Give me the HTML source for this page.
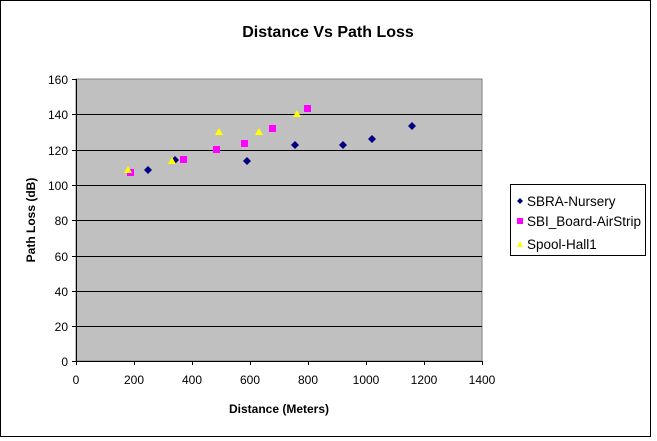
<!DOCTYPE html>
<html><head><meta charset="utf-8"><style>
body{margin:0;background:#fff}
svg{display:block;font-family:"Liberation Sans",Arial,sans-serif}
</style></head><body>
<svg width="657" height="441" viewBox="0 0 657 441">
<rect x="0.5" y="0.5" width="650" height="436" fill="#fff" stroke="#000"/>
<text x="328" y="37" font-size="16" font-weight="bold" text-anchor="middle">Distance Vs Path Loss</text>
<rect x="76" y="79" width="406" height="282" fill="#c0c0c0" stroke="#808080"/>
<g stroke="#000" stroke-width="1">
<line x1="76" x2="482" y1="114.5" y2="114.5"/>
<line x1="76" x2="482" y1="150.5" y2="150.5"/>
<line x1="76" x2="482" y1="185.5" y2="185.5"/>
<line x1="76" x2="482" y1="220.5" y2="220.5"/>
<line x1="76" x2="482" y1="256.5" y2="256.5"/>
<line x1="76" x2="482" y1="291.5" y2="291.5"/>
<line x1="76" x2="482" y1="326.5" y2="326.5"/>
<line x1="76.5" x2="76.5" y1="79" y2="361"/>
<line x1="76" x2="482" y1="361.5" y2="361.5"/>
</g>
<g stroke="#000">
<line x1="72" x2="76" y1="79.5" y2="79.5"/><line x1="72" x2="76" y1="114.5" y2="114.5"/><line x1="72" x2="76" y1="150.5" y2="150.5"/><line x1="72" x2="76" y1="185.5" y2="185.5"/><line x1="72" x2="76" y1="220.5" y2="220.5"/><line x1="72" x2="76" y1="256.5" y2="256.5"/><line x1="72" x2="76" y1="291.5" y2="291.5"/><line x1="72" x2="76" y1="326.5" y2="326.5"/><line x1="72" x2="76" y1="361.5" y2="361.5"/>
<line x1="76.5" x2="76.5" y1="361" y2="365"/><line x1="134.5" x2="134.5" y1="361" y2="365"/><line x1="192.5" x2="192.5" y1="361" y2="365"/><line x1="250.5" x2="250.5" y1="361" y2="365"/><line x1="308.5" x2="308.5" y1="361" y2="365"/><line x1="366.5" x2="366.5" y1="361" y2="365"/><line x1="424.5" x2="424.5" y1="361" y2="365"/><line x1="482.5" x2="482.5" y1="361" y2="365"/>
</g>
<g font-size="12" text-anchor="end">
<text x="68" y="84">160</text><text x="68" y="119">140</text><text x="68" y="155">120</text><text x="68" y="190">100</text><text x="68" y="225">80</text><text x="68" y="261">60</text><text x="68" y="296">40</text><text x="68" y="331">20</text><text x="68" y="366">0</text>
</g>
<g font-size="12" text-anchor="middle">
<text x="76" y="384">0</text><text x="134" y="384">200</text><text x="192" y="384">400</text><text x="250" y="384">600</text><text x="308" y="384">800</text><text x="366" y="384">1000</text><text x="424" y="384">1200</text><text x="482" y="384">1400</text>
</g>
<text x="279" y="413" font-size="12" font-weight="bold" text-anchor="middle">Distance (Meters)</text>
<text transform="translate(35,220) rotate(-90)" font-size="12" font-weight="bold" text-anchor="middle">Path Loss (dB)</text>
<g fill="#ff00ff">
<rect x="127" y="169" width="7" height="7"/><rect x="180" y="156" width="7" height="7"/><rect x="213" y="146" width="7" height="7"/><rect x="241" y="140" width="7" height="7"/><rect x="269" y="125" width="7" height="7"/><rect x="304" y="105" width="7" height="7"/>
</g>
<g fill="#000080">
<path d="M148 166l4 4-4 4-4-4z"/><path d="M175 156l4 4-4 4-4-4z"/><path d="M247 157l4 4-4 4-4-4z"/><path d="M295 141l4 4-4 4-4-4z"/><path d="M343 141l4 4-4 4-4-4z"/><path d="M372 135l4 4-4 4-4-4z"/><path d="M412 122l4 4-4 4-4-4z"/>
</g>
<g fill="#ffff00">
<path d="M128 166l4 7h-8z"/><path d="M172 157l4 7h-8z"/><path d="M219 128l4 7h-8z"/><path d="M259 128l4 7h-8z"/><path d="M297 110l4 7h-8z"/>
</g>
<rect x="510.5" y="184.5" width="135" height="71" fill="#fff" stroke="#000"/>
<path d="M520 198l3 3-3 3-3-3z" fill="#000080"/>
<rect x="517" y="218" width="6" height="6" fill="#ff00ff"/>
<path d="M520 241l3 6h-6z" fill="#ffff00"/>
<g font-size="13.5">
<text x="527" y="206">SBRA-Nursery</text>
<text x="527" y="226">SBI_Board-AirStrip</text>
<text x="527" y="249">Spool-Hall1</text>
</g>
</svg>
</body></html>
